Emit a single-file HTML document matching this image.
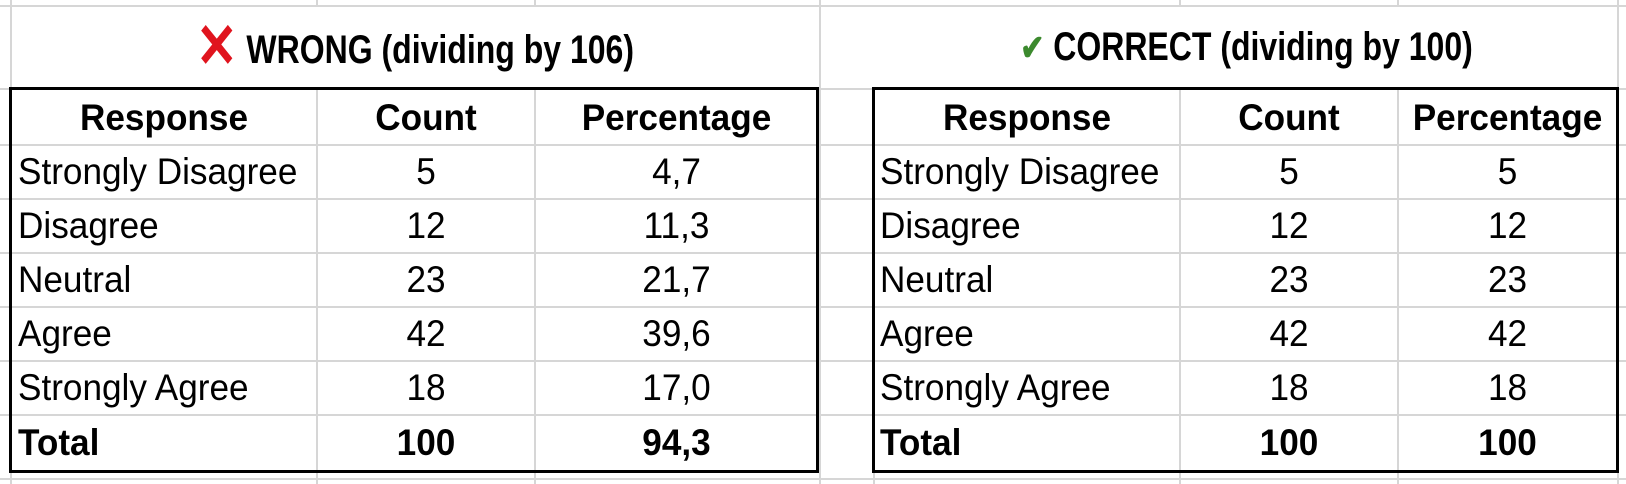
<!DOCTYPE html>
<html><head><meta charset="utf-8"><style>
body{margin:0;width:1626px;height:484px;background:#fff;position:relative;overflow:hidden;font-family:"Liberation Sans",sans-serif;color:#000}
.h{position:absolute;height:2px;background:#d6d6d6}
.v{position:absolute;width:2px;background:#d6d6d6}
.b{position:absolute;border:3px solid #000;box-sizing:border-box}
.t{position:absolute;font-size:37px;line-height:54px;height:54px;white-space:nowrap;transform:scaleX(0.95);transform-origin:left center}
.c{text-align:center;transform-origin:center center}
.bold{font-weight:bold}
.title{position:absolute;top:22px;height:50px;line-height:50px;font-size:40px;font-weight:bold;text-align:center;white-space:nowrap;transform:scaleX(0.8)}
</style></head><body>
<div class="h" style="left:0;top:5px;width:1626px"></div>
<div class="h" style="left:0;top:88px;width:1626px"></div>
<div class="h" style="left:0;top:144px;width:1626px"></div>
<div class="h" style="left:0;top:198px;width:1626px"></div>
<div class="h" style="left:0;top:252px;width:1626px"></div>
<div class="h" style="left:0;top:306px;width:1626px"></div>
<div class="h" style="left:0;top:360px;width:1626px"></div>
<div class="h" style="left:0;top:414px;width:1626px"></div>
<div class="h" style="left:0;top:478px;width:1626px"></div>
<div class="v" style="left:10px;top:0;height:484px"></div>
<div class="v" style="left:316px;top:0;height:6px"></div>
<div class="v" style="left:534px;top:0;height:6px"></div>
<div class="v" style="left:819px;top:0;height:484px"></div>
<div class="v" style="left:1179px;top:0;height:6px"></div>
<div class="v" style="left:1397px;top:0;height:6px"></div>
<div class="v" style="left:1617px;top:0;height:484px"></div>
<div style="position:absolute;left:12px;top:7px;width:807px;height:81px;background:#fff"></div>
<div style="position:absolute;left:821px;top:7px;width:796px;height:81px;background:#fff"></div>
<div class="v" style="left:316px;top:89px;height:395px"></div>
<div class="v" style="left:534px;top:89px;height:395px"></div>
<div class="v" style="left:873px;top:89px;height:395px"></div>
<div class="v" style="left:1179px;top:89px;height:395px"></div>
<div class="v" style="left:1397px;top:89px;height:395px"></div>
<div class="b" style="left:9px;top:87px;width:810px;height:386px"></div>
<div class="b" style="left:872px;top:87px;width:747px;height:386px"></div>
<div class="title" style="left:11px;width:808px"><span style="color:#e0141e;font-size:62px;font-weight:900;vertical-align:-4px">✕</span> WRONG (dividing by 106)</div>
<div class="title" style="left:874px;width:745px"><span style="color:#3c8a2e;font-size:36px">✔</span> CORRECT (dividing by 100)</div>
<div class="t c bold" style="left:12px;width:304px;top:91px">Response</div>
<div class="t c bold" style="left:318px;width:216px;top:91px">Count</div>
<div class="t c bold" style="left:536px;width:281px;top:91px">Percentage</div>
<div class="t" style="left:18px;top:145px">Strongly Disagree</div>
<div class="t c" style="left:318px;width:216px;top:145px">5</div>
<div class="t c" style="left:536px;width:281px;top:145px">4,7</div>
<div class="t" style="left:18px;top:199px">Disagree</div>
<div class="t c" style="left:318px;width:216px;top:199px">12</div>
<div class="t c" style="left:536px;width:281px;top:199px">11,3</div>
<div class="t" style="left:18px;top:253px">Neutral</div>
<div class="t c" style="left:318px;width:216px;top:253px">23</div>
<div class="t c" style="left:536px;width:281px;top:253px">21,7</div>
<div class="t" style="left:18px;top:307px">Agree</div>
<div class="t c" style="left:318px;width:216px;top:307px">42</div>
<div class="t c" style="left:536px;width:281px;top:307px">39,6</div>
<div class="t" style="left:18px;top:361px">Strongly Agree</div>
<div class="t c" style="left:318px;width:216px;top:361px">18</div>
<div class="t c" style="left:536px;width:281px;top:361px">17,0</div>
<div class="t bold" style="left:18px;top:416px">Total</div>
<div class="t c bold" style="left:318px;width:216px;top:416px">100</div>
<div class="t c bold" style="left:536px;width:281px;top:416px">94,3</div>
<div class="t c bold" style="left:875px;width:304px;top:91px">Response</div>
<div class="t c bold" style="left:1181px;width:216px;top:91px">Count</div>
<div class="t c bold" style="left:1399px;width:217px;top:91px">Percentage</div>
<div class="t" style="left:880px;top:145px">Strongly Disagree</div>
<div class="t c" style="left:1181px;width:216px;top:145px">5</div>
<div class="t c" style="left:1399px;width:217px;top:145px">5</div>
<div class="t" style="left:880px;top:199px">Disagree</div>
<div class="t c" style="left:1181px;width:216px;top:199px">12</div>
<div class="t c" style="left:1399px;width:217px;top:199px">12</div>
<div class="t" style="left:880px;top:253px">Neutral</div>
<div class="t c" style="left:1181px;width:216px;top:253px">23</div>
<div class="t c" style="left:1399px;width:217px;top:253px">23</div>
<div class="t" style="left:880px;top:307px">Agree</div>
<div class="t c" style="left:1181px;width:216px;top:307px">42</div>
<div class="t c" style="left:1399px;width:217px;top:307px">42</div>
<div class="t" style="left:880px;top:361px">Strongly Agree</div>
<div class="t c" style="left:1181px;width:216px;top:361px">18</div>
<div class="t c" style="left:1399px;width:217px;top:361px">18</div>
<div class="t bold" style="left:880px;top:416px">Total</div>
<div class="t c bold" style="left:1181px;width:216px;top:416px">100</div>
<div class="t c bold" style="left:1399px;width:217px;top:416px">100</div>
</body></html>
